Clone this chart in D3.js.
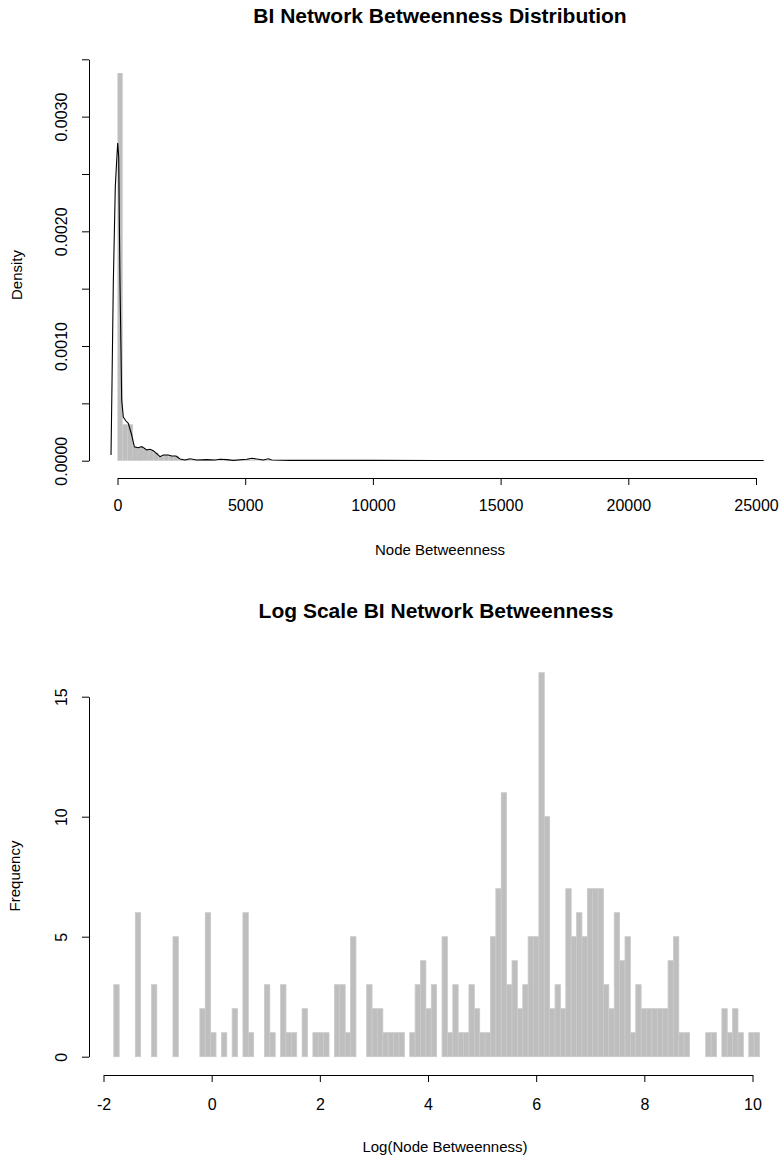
<!DOCTYPE html>
<html>
<head>
<meta charset="utf-8">
<script src="https://cdn.jsdelivr.net/npm/d3@7"></script>
<style>
  html, body { margin: 0; padding: 0; background: #ffffff; }
  svg { display: block; font-family: "Liberation Sans", Arial, sans-serif; }
</style>
</head>
<body>
<svg id="chart" width="780" height="1162"></svg>
<script>
// ---------- Top chart data (density histogram, bins of 200) ----------
const topBinStart = 0;
const topBinWidth = 200;
const topDensity = [0.00338, 0.000317, 0.000317, 0.00012, 0.00011, 0.0001, 0.00009, 0.00007,
  0.00004, 0.00005, 0.00004, 0.00004, 0.00001, 0.00001, 0.000005, 0.000008, 0.000005, 0.000005,
  0.000008, 0.000005, 0.000005, 0.000008, 0.000005, 0.000005, 0.00001, 0.000015, 0.00001,
  0.000005, 0.00001, 0.000005];
// kernel density line
const densX = [-254,-215,-164,-137,-86,-31,8,47,70,98,137,164,227,333,423,462,556,658,814,948,
  1049,1143,1273,1402,1558,1664,1793,1989,2122,2291,2448,2643,2839,3101,3493,3818,4013,4276,4534,5059,
  5255,5450,5709,5904,6038,6754,8000,10000,12500,15000,17500,20000,22500,25300];
const densY = [0.00005,0.00068,0.00155,0.00184,0.00239,0.00262,0.00277,0.00265,0.00213,0.00155,
  0.00097,0.00053,0.00038,0.000346,0.000326,0.000296,0.000224,0.000122,0.000113,0.000122,
  0.000108,0.000093,0.000099,0.000087,0.000058,0.000035,0.00005,0.00005,0.000041,0.000041,
  0.000015,0.000006,0.000017,0.000006,0.000009,0.000006,0.000012,0.000009,0.000003,0.000012,
  0.000021,0.000015,0.000006,0.000017,0.000006,0.000003,0.000003,0.000003,0.000002,0.000002,
  0.000002,0.000002,0.000002,0.000002];
const topXTicks = [0, 5000, 10000, 15000, 20000, 25000];
const topYTicks = [0, 0.0005, 0.001, 0.0015, 0.002, 0.0025, 0.003, 0.0035];
const topYLabels = ["0.0000", "", "0.0010", "", "0.0020", "", "0.0030", ""];

// ---------- Bottom chart data (log histogram) ----------
const logBinStart = -1.81;
const logBinWidth = 0.0995;
const logCounts = [
  3,0,0,0,6,0,0,3,0,0, 0,5,0,0,0,0,2,6,1,0,
  1,0,2,0,6,1,0,0,3,1, 0,3,1,1,0,2,0,1,1,1,
  0,3,3,1,5,0,0,3,2,2, 1,1,1,1,0,1,3,4,2,3,
  0,5,1,3,1,1,3,2,1,1, 5,7,11,3,4,2,3,5,5,16,
  10,2,3,2,7,5,6,5,7,7, 7,3,2,6,4,5,1,3,2,2,
  2,2,2,4,5,1,1,0,0,0, 1,1,0,2,1,2,1,0,1,1];
const logXTicks = [-2, 0, 2, 4, 6, 8, 10];
const logXLabels = ["-2", "0", "2", "4", "6", "8", "10"];
const logYTicks = [0, 5, 10, 15];

const svg = d3.select("#chart");
const barFill = "#bebebe";
const barStroke = "#cacaca";
const tickFont = 16;
const labelFont = 15;
const titleFont = 21;

// ================= TOP =================
const xTop = d3.scaleLinear().domain([0, 25000]).range([117.5, 756]);
const yTop = d3.scaleLinear().domain([0, 0.0035]).range([460.7, 59.3]);

const gTop = svg.append("g");
gTop.selectAll("rect.bar").data(topDensity).join("rect")
  .attr("class", "bar")
  .attr("x", (d, i) => xTop(topBinStart + i * topBinWidth))
  .attr("width", (d, i) => xTop(topBinStart + (i + 1) * topBinWidth) - xTop(topBinStart + i * topBinWidth))
  .attr("y", d => yTop(d))
  .attr("height", d => yTop(0) - yTop(d))
  .attr("fill", barFill)
  .attr("stroke", "none");

const densPts = densX.map((x, i) => [x, densY[i]]);
gTop.append("path")
  .datum(densPts)
  .attr("d", d3.line().x(d => xTop(d[0])).y(d => yTop(d[1])))
  .attr("fill", "none")
  .attr("stroke", "#000")
  .attr("stroke-width", 1.1);

const axTopX = gTop.append("g").attr("transform", "translate(0,478)")
  .call(d3.axisBottom(xTop).tickValues(topXTicks).tickSize(7).tickSizeOuter(0).tickFormat(d3.format("d")));
const axTopY = gTop.append("g").attr("transform", "translate(89,0)")
  .call(d3.axisLeft(yTop).tickValues(topYTicks).tickSize(7).tickSizeOuter(0)
    .tickFormat((d, i) => topYLabels[i]));

// ================= BOTTOM =================
const xBot = d3.scaleLinear().domain([-2, 10]).range([103.5, 752.5]);
const yBot = d3.scaleLinear().domain([0, 15]).range([1056.7, 696.7]);
const gBot = svg.append("g");
gBot.selectAll("rect.bar").data(logCounts).join("rect")
  .attr("class", "bar")
  .attr("x", (d, i) => xBot(logBinStart + i * logBinWidth))
  .attr("width", (d, i) => xBot(logBinStart + (i + 1) * logBinWidth) - xBot(logBinStart + i * logBinWidth))
  .attr("y", d => yBot(d))
  .attr("height", d => yBot(0) - yBot(d))
  .attr("fill", barFill)
  .attr("stroke", barStroke)
  .attr("stroke-width", 0.8);

const axBotX = gBot.append("g").attr("transform", "translate(0,1075)")
  .call(d3.axisBottom(xBot).tickValues(logXTicks).tickSize(7).tickSizeOuter(0)
    .tickFormat((d, i) => logXLabels[i]));
const axBotY = gBot.append("g").attr("transform", "translate(89,0)")
  .call(d3.axisLeft(yBot).tickValues(logYTicks).tickSize(7).tickSizeOuter(0).tickFormat(d3.format("d")));

// ---------- axis styling ----------
svg.selectAll(".domain").attr("stroke", "#000").attr("stroke-width", 1);
svg.selectAll(".tick line").attr("stroke", "#000").attr("stroke-width", 1);
svg.selectAll(".tick text").attr("font-size", tickFont).attr("fill", "#000")
  .attr("font-family", "Liberation Sans, Arial, sans-serif");
axTopX.selectAll(".tick text").attr("dy", null).attr("y", 29).attr("dominant-baseline", "middle");
axBotX.selectAll(".tick text").attr("dy", null).attr("y", 31).attr("dominant-baseline", "middle");
function rotateY(g) {
  g.selectAll(".tick text")
    .attr("x", null).attr("dy", null)
    .attr("text-anchor", "middle")
    .attr("dominant-baseline", "middle")
    .attr("transform", "translate(-26,0) rotate(-90)");
}
rotateY(axTopY);
rotateY(axBotY);

// ---------- titles and labels ----------
function label(x, y, txt, opts = {}) {
  const t = svg.append("text")
    .attr("x", x).attr("y", y)
    .attr("text-anchor", "middle")
    .attr("dominant-baseline", "middle")
    .attr("font-size", opts.size || labelFont)
    .attr("font-weight", opts.bold ? "bold" : "normal")
    .attr("fill", "#000")
    .text(txt);
  if (opts.rotate) t.attr("transform", `rotate(-90,${x},${y})`);
  return t;
}
label(440, 17, "BI Network Betweenness Distribution", { size: titleFont, bold: true });
label(440, 551, "Node Betweenness");
label(18, 275, "Density", { rotate: true });

label(436, 612, "Log Scale BI Network Betweenness", { size: titleFont, bold: true });
label(445, 1148, "Log(Node Betweenness)");
label(16, 876, "Frequency", { rotate: true });
</script>
</body>
</html>
